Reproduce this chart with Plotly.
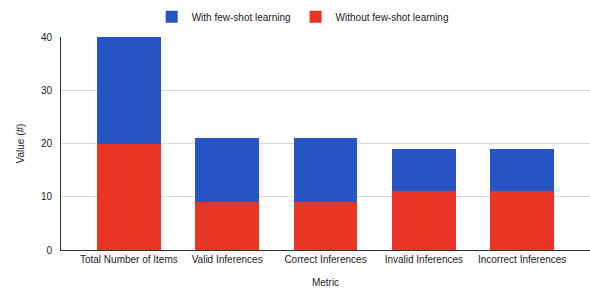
import plotly.graph_objects as go

categories = ["Total Number of Items", "Valid Inferences", "Correct Inferences",
              "Invalid Inferences", "Incorrect Inferences"]
without_fs = [20, 9, 9, 11, 11]
with_fs = [20, 12, 12, 8, 8]
y_ticks = [0, 10, 20, 30, 40]

BLUE = "#2855c5"
RED = "#ea3424"
FONT = "Liberation Sans, Arial, sans-serif"

fig = go.Figure()
fig.add_trace(go.Bar(x=categories, y=without_fs, name="Without few-shot learning",
                     marker=dict(color=RED, line=dict(width=0))))
fig.add_trace(go.Bar(x=categories, y=with_fs, name="With few-shot learning",
                     marker=dict(color=BLUE, line=dict(width=0))))

fig.update_layout(
    width=590, height=288,
    barmode="stack", bargap=0.35,
    paper_bgcolor="white", plot_bgcolor="white",
    font=dict(family=FONT, size=10, color="#222222"),
    margin=dict(l=61, r=0, t=37, b=38, pad=0, autoexpand=False),
    legend=dict(orientation="h", x=0.513, xanchor="center", xref="container",
                y=0.942, yanchor="middle", yref="container",
                traceorder="reversed", itemwidth=30,
                font=dict(size=10, color="#222222")),
    showlegend=True,
)
fig.update_xaxes(range=[-0.69, 4.69], showline=True, linecolor="#333333", linewidth=1,
                 ticks="", showgrid=False, automargin=False,
                 title=dict(text="Metric", standoff=14, font=dict(size=10)),
                 tickfont=dict(size=10))
fig.update_yaxes(range=[0, 40], tickvals=y_ticks, showline=True, linecolor="#333333",
                 linewidth=1, gridcolor="#d9d9d9", gridwidth=1, zeroline=False,
                 automargin=False, ticklabelstandoff=6,
                 title=dict(text="Value (#)", standoff=14, font=dict(size=10)),
                 tickfont=dict(size=10), ticks="")

fig.write_html("out.html", config={"displayModeBar": False},
               post_script="document.body.style.margin='0';document.body.style.overflow='hidden';")
